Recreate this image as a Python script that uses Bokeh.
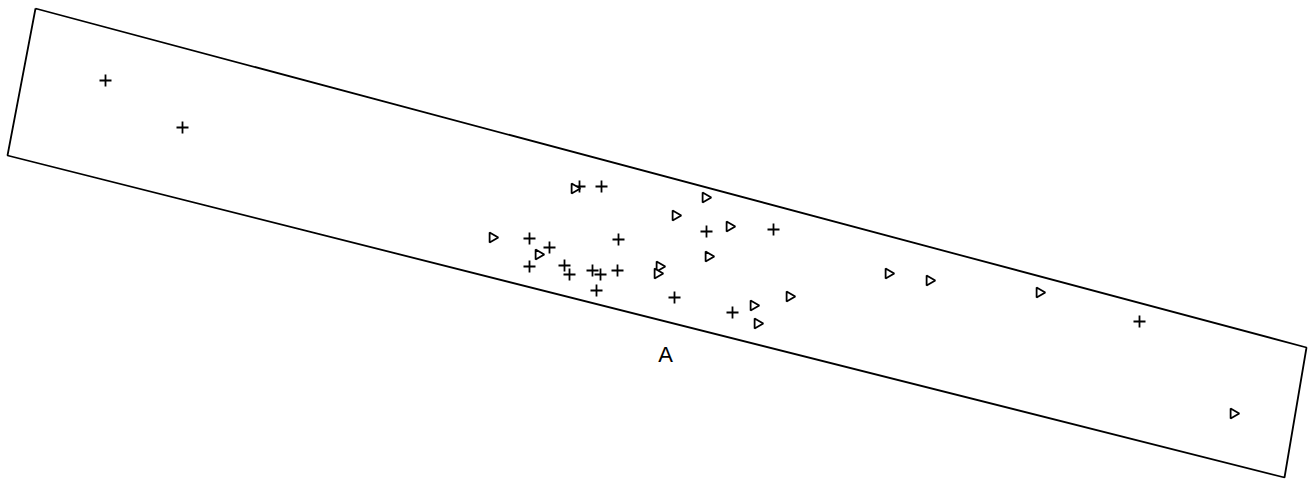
import math
from bokeh.plotting import figure
from bokeh.models import Range1d
from bokeh.embed import file_html
from bokeh.resources import INLINE
from bokeh.core.properties import value

# Frame corners (picture coordinates, y downward)
frame_x = [35, 1306, 1284, 7, 35]
frame_y = [8, 347, 477, 155, 8]

# Plus markers
plus_x = [105, 182, 579, 601, 529, 618, 549, 529, 564, 569, 592, 600, 617, 596, 674, 706, 773, 732, 1139]
plus_y = [80, 127, 186, 186, 238, 239, 247, 266, 265, 274, 270, 274, 270, 290, 297, 231, 229, 312, 321]

# Right-pointing triangle markers
tri_x = [574, 492, 538, 675, 705, 729, 708, 659, 657, 753, 757, 789, 888, 929, 1039, 1233]
tri_y = [188, 237, 254, 215, 197, 226, 256, 266, 273, 305, 323, 296, 273, 280, 292, 413]

label_text = ["A"]
label_x = [665]
label_y = [354]

p = figure(width=1311, height=480, output_backend="svg", toolbar_location=None,
           x_range=Range1d(0, 1311), y_range=Range1d(480, 0),
           min_border=0, background_fill_color="white", border_fill_color="white")
p.axis.visible = False
p.grid.visible = False
p.outline_line_color = None

p.line(frame_x, frame_y, line_color="black", line_width=1.8)
p.scatter(plus_x, plus_y, marker="cross", size=12, line_color="black", line_width=1.8)
p.scatter(tri_x, tri_y, marker="triangle", size=10, angle=-math.pi / 2,
          line_color="black", fill_color="white", line_width=1.8)
p.text(label_x, label_y, text=label_text, text_font=value("Liberation Sans"),
       text_font_size="22px", text_align="center", text_baseline="middle", text_color="black")

open("out.html", "w").write(file_html(p, INLINE))
